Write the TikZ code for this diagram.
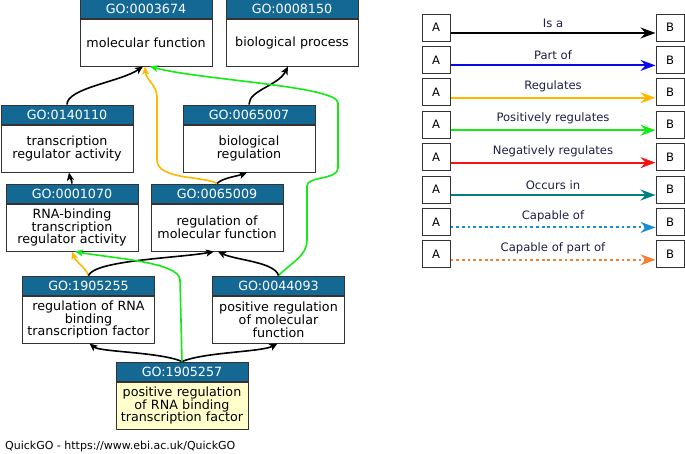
\documentclass[tikz,border=0pt]{standalone}
\usepackage{fontspec}
\setmainfont{DejaVu Sans}
\usetikzlibrary{arrows.meta}

\definecolor{gohead}{RGB}{20,104,148}
\definecolor{goyellow}{RGB}{255,255,204}
\definecolor{isacol}{RGB}{0,0,0}
\definecolor{partcol}{RGB}{10,10,230}
\definecolor{regcol}{RGB}{255,184,0}
\definecolor{poscol}{RGB}{20,235,20}
\definecolor{negcol}{RGB}{245,20,20}
\definecolor{occcol}{RGB}{0,128,128}
\definecolor{capcol}{RGB}{25,140,210}
\definecolor{cappcol}{RGB}{240,130,50}
\definecolor{labcol}{RGB}{30,30,70}

\tikzset{
  term/.style={draw=black!80, line width=1pt, fill=white, text width=132pt,
    minimum width=132pt, minimum height=47pt, inner sep=0pt, align=center,
    font=\fontsize{12.7}{12.8}\selectfont},
  termhead/.style={draw=black!80, line width=1pt, fill=gohead, text=white,
    minimum width=132pt, minimum height=19pt, inner sep=0pt, anchor=south,
    font=\fontsize{12.7}{13}\selectfont},
  rel/.style={line width=1.6pt, -{Stealth[length=8pt,width=7pt,inset=2pt]}},
  legrel/.style={line width=2pt, -{Stealth[length=15pt,width=11pt,inset=5pt]}},
  isa/.style={draw=isacol},
  partof/.style={draw=partcol},
  regulates/.style={draw=regcol},
  posreg/.style={draw=poscol},
  negreg/.style={draw=negcol},
  occursin/.style={draw=occcol},
  capable/.style={draw=capcol, dash pattern=on 2.8pt off 2.9pt},
  capablepart/.style={draw=cappcol, dash pattern=on 2.8pt off 2.9pt},
  legbox/.style={draw=black!80, line width=1pt, minimum width=28pt, minimum height=27pt,
    inner sep=0pt, font=\fontsize{11.6}{12}\selectfont},
}

\begin{document}
\begin{tikzpicture}[x=1pt,y=-1pt]
  \useasboundingbox (0,0) rectangle (685,453);

  % terms
  \node[term] (mf) at (146,42.5) {molecular function};
  \node[termhead] (mfh) at (mf.north) {GO:0003674};
  \node[term] (bp) at (292,42.5) {biological process};
  \node[termhead] (bph) at (bp.north) {GO:0008150};
  \node[term] (tra) at (67,148.5) {transcription\\regulator activity};
  \node[termhead] (trah) at (tra.north) {GO:0140110};
  \node[term] (breg) at (249,148.5) {biological\\regulation};
  \node[termhead] (bregh) at (breg.north) {GO:0065007};
  \node[term] (rnab) at (72,227.5) {RNA-binding\\transcription\\regulator activity};
  \node[termhead] (rnabh) at (rnab.north) {GO:0001070};
  \node[term] (rmf) at (217,227.5) {regulation of\\molecular function};
  \node[termhead] (rmfh) at (rmf.north) {GO:0065009};
  \node[term] (rrna) at (88.5,319.5) {regulation of RNA\\binding\\transcription factor};
  \node[termhead] (rrnah) at (rrna.north) {GO:1905255};
  \node[term] (prmf) at (278.5,319.5) {positive regulation\\of molecular\\function};
  \node[termhead] (prmfh) at (prmf.north) {GO:0044093};
  \node[term, fill=goyellow] (prrna) at (182,405.5) {positive regulation\\of RNA binding\\transcription factor};
  \node[termhead] (prrnah) at (prrna.north) {GO:1905257};

  % relations
  \draw[rel, isa] (trah.north) .. controls (67,88) and (120,82) .. ([xshift=-3pt]mf.south);
  \draw[rel, isa] (bregh.north) .. controls (249,90) and (278,86) .. ([xshift=-4pt]bp.south);
  \draw[rel, isa] (rnabh.north) .. controls (72,180) and (70,178) .. ([xshift=2pt]tra.south);
  \draw[rel, isa] (rmfh.north) .. controls (222,178) and (238,176) .. ([xshift=-2pt]breg.south);
  \draw[rel, regulates] (rmfh.north) .. controls (205,176) and (157,180) .. (157,160)
    -- (157,97) .. controls (157,85) and (146,80) .. ([xshift=-1pt]mf.south);
  \draw[rel, posreg] (prmfh.north) .. controls (292,262) and (307,256) .. (307,240)
    -- (307,186) .. controls (307,176) and (338,180) .. (338,168)
    -- (338,103) .. controls (338,86) and (200,80) .. ([xshift=4pt]mf.south);
  \draw[rel, regulates] (rrnah.north) .. controls (86,268) and (76,262) .. (rnab.south);
  \draw[rel, isa] (rrnah.north) .. controls (95,260) and (180,258) .. ([xshift=-3pt]rmf.south);
  \draw[rel, isa] (prmfh.north) .. controls (275,262) and (235,260) .. ([xshift=1pt]rmf.south);
  \draw[rel, isa] (prrnah.north) .. controls (160,352) and (100,352) .. ([xshift=1pt]rrna.south);
  \draw[rel, isa] (prrnah.north) .. controls (205,352) and (262,352) .. ([xshift=-1pt]prmf.south);
  \draw[rel, posreg] (prrnah.north) -- (180,280) .. controls (180,262) and (110,258)
    .. ([xshift=3pt]rnab.south);

  \node[anchor=west, inner sep=0pt, font=\fontsize{11}{12}\selectfont] (src) at (5,446)
    {QuickGO - https://www.ebi.ac.uk/QuickGO};

  % legend
  \foreach \lab/\sty [count=\i from 0] in {Is a/isa, Part of/partof, Regulates/regulates,
      Positively regulates/posreg, Negatively regulates/negreg, Occurs in/occursin,
      Capable of/capable, Capable of part of/capablepart} {
    \node[legbox] (la\i) at (436,27.5+32.4*\i) {A};
    \node[legbox] (lb\i) at (670,27.5+32.4*\i) {B};
    \draw[legrel, \sty] ([yshift=-5.5pt]la\i.east) -- ([yshift=-5.5pt]lb\i.west)
      node[midway, above=1.5pt, text=labcol, font=\fontsize{11.6}{12}\selectfont] {\lab};
  }
\end{tikzpicture}
\end{document}
